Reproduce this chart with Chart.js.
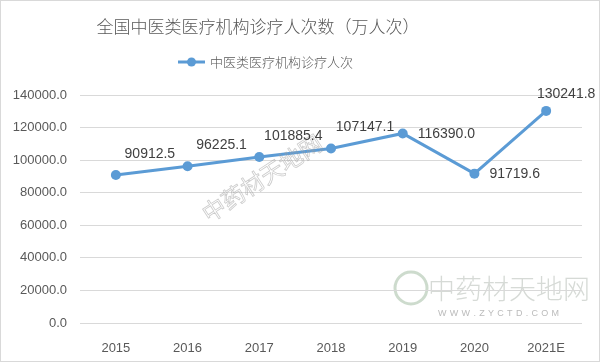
<!DOCTYPE html>
<html>
<head>
<meta charset="utf-8">
<script src="https://cdn.jsdelivr.net/npm/chart.js@4.4.1/dist/chart.umd.min.js"></script>
<style>
html,body{margin:0;padding:0;background:#fff;}
canvas{display:block;}
</style>
</head>
<body>
<canvas id="c" width="600" height="362"></canvas>
<script>
const titleText = "全国中医类医疗机构诊疗人次数（万人次）";
const seriesName = "中医类医疗机构诊疗人次";
const categories = ["2015", "2016", "2017", "2018", "2019", "2020", "2021E"];
const visits = [90912.5, 96225.1, 101885.4, 107147.1, 116390.0, 91719.6, 130241.8];
const yTicks = [0, 20000, 40000, 60000, 80000, 100000, 120000, 140000];

const labelPlacement = ["ar", "ar", "ar", "ar", "r", "r", "a"];
const CJK = '"Noto Sans CJK SC", "Noto Sans", sans-serif';
const NUM = '"Liberation Sans", Arial, sans-serif';
const BLUE = '#5B9BD5';

const decor = {
  id: 'decor',
  beforeDraw(chart) {
    const ctx = chart.ctx;
    ctx.save();
    ctx.fillStyle = '#fff';
    ctx.fillRect(0, 0, chart.width, chart.height);
    // watermark logo bottom right
    ctx.strokeStyle = 'rgba(200,215,200,0.9)';
    ctx.lineWidth = 3;
    ctx.beginPath(); ctx.arc(411, 288, 16, 0, Math.PI * 2); ctx.stroke();
    ctx.fillStyle = 'rgba(200,205,200,0.75)';
    ctx.font = '300 27px ' + CJK;
    ctx.textAlign = 'left'; ctx.textBaseline = 'middle';
    ctx.fillText('中药材天地网', 428, 289);
    ctx.fillStyle = 'rgba(170,170,170,0.8)';
    ctx.font = '9px ' + NUM;
    const s = 'WWW.ZYCTD.COM';
    let x = 438;
    for (const ch of s) { ctx.fillText(ch, x, 314); x += ctx.measureText(ch).width + 3.3; }
    ctx.restore();
  },
  afterDraw(chart) {
    const ctx = chart.ctx;
    ctx.save();
    // diagonal watermark
    ctx.translate(262, 178);
    ctx.rotate(-33 * Math.PI / 180);
    ctx.font = '23px ' + CJK;
    ctx.textAlign = 'center'; ctx.textBaseline = 'middle';
    ctx.strokeStyle = 'rgba(160,160,160,0.55)';
    ctx.lineWidth = 0.8;
    ctx.strokeText('中药材天地网', 0, 0);
    ctx.restore();

    ctx.save();
    // title
    ctx.fillStyle = '#595959';
    ctx.font = '300 17px ' + CJK;
    ctx.textAlign = 'center'; ctx.textBaseline = 'middle';
    ctx.fillText(titleText, 258, 27);
    // legend
    const ds = chart.data.datasets[0];
    ctx.strokeStyle = ds.borderColor; ctx.lineWidth = 3;
    ctx.beginPath(); ctx.moveTo(178, 62); ctx.lineTo(205, 62); ctx.stroke();
    ctx.fillStyle = ds.borderColor;
    ctx.beginPath(); ctx.arc(191.5, 62, 4.5, 0, Math.PI * 2); ctx.fill();
    ctx.fillStyle = '#595959';
    ctx.font = '300 13px ' + CJK;
    ctx.textAlign = 'left';
    ctx.fillText(ds.label, 210, 62);
    // data labels
    const meta = chart.getDatasetMeta(0);
    ctx.fillStyle = '#404040';
    ctx.font = '14px ' + NUM;
    ctx.textBaseline = 'middle';
    meta.data.forEach((pt, i) => {
      const txt = ds.data[i].toFixed(1);
      const p = labelPlacement[i];
      let x = pt.x, y = pt.y;
      if (p === 'ar') { ctx.textAlign = 'center'; x += 34; y -= 21; }
      else if (p === 'r') { ctx.textAlign = 'left'; x += 15; y += 1; }
      else { ctx.textAlign = 'center'; x += 20; y -= 17; }
      ctx.fillText(txt, x, y);
    });
    // border
    ctx.strokeStyle = '#d9d9d9'; ctx.lineWidth = 1;
    ctx.strokeRect(0.5, 0.5, chart.width - 1, chart.height - 1);
    ctx.restore();
  }
};

new Chart(document.getElementById('c'), {
  type: 'line',
  data: {
    labels: categories,
    datasets: [{
      label: seriesName,
      data: visits,
      borderColor: BLUE,
      backgroundColor: BLUE,
      borderWidth: 3,
      pointRadius: 5,
      pointHoverRadius: 5,
      pointBorderWidth: 0,
      pointBackgroundColor: BLUE,
      pointBorderColor: BLUE,
      tension: 0,
      fill: false
    }]
  },
  options: {
    responsive: false,
    animation: false,
    devicePixelRatio: 1,
    layout: { padding: { top: 95, right: 18, bottom: 0, left: 0 } },
    plugins: { legend: { display: false }, title: { display: false }, tooltip: { enabled: false } },
    scales: {
      x: {
        offset: true,
        grid: { display: false },
        border: { display: false },
        ticks: { color: '#595959', font: { family: NUM, size: 13 }, padding: 10, maxRotation: 0 },
        afterFit(s) { s.height = 39; }
      },
      y: {
        min: 0, max: 140000,
        afterBuildTicks(s) { s.ticks = yTicks.map(v => ({ value: v })); },
        grid: { color: '#d9d9d9', drawTicks: false, lineWidth: 1 },
        border: { display: false },
        ticks: { color: '#595959', font: { family: NUM, size: 13 }, padding: 13, callback: v => Number(v).toFixed(1) },
        afterFit(s) { s.width = 80; }
      }
    }
  },
  plugins: [decor]
});
</script>
</body>
</html>
